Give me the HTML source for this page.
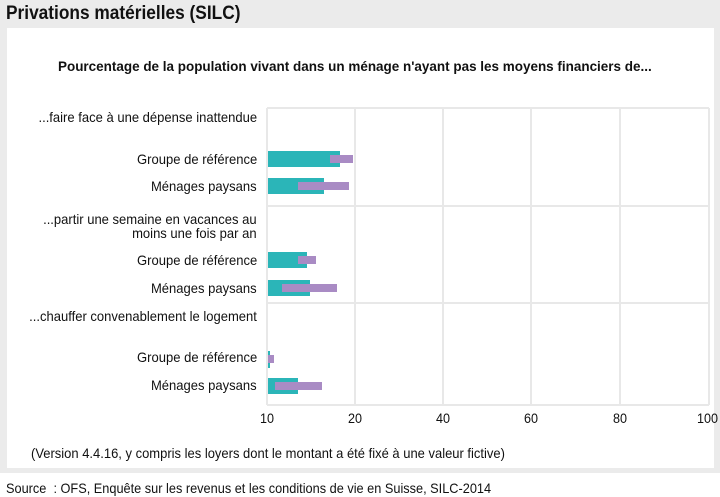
<!DOCTYPE html>
<html><head><meta charset="utf-8"><style>
body{margin:0;width:720px;height:497px;background:#fff;position:relative;overflow:hidden;font-family:"Liberation Sans",sans-serif;color:#111}
.hdr{position:absolute;left:0;top:0;width:720px;height:473px;background:#ebebeb}
.panel{position:absolute;left:7px;top:28px;width:707px;height:440px;background:#fff}
.t{position:absolute;white-space:nowrap;transform-origin:0 0}
.lbl{position:absolute;right:463px;font-size:14px;text-align:right;white-space:nowrap;line-height:14px;transform:scaleX(0.93);transform-origin:100% 0}
.b{position:absolute}
.tl{background:#2bb5b8}.pu{background:#a98bc4}
</style></head><body>
<div class="hdr"></div>
<div class="panel"></div>
<div class="t" style="left:6px;top:3px;font-size:19px;font-weight:bold;transform:scaleX(0.91)">Privations matérielles (SILC)</div>
<div class="t" style="left:58px;top:58px;font-size:14px;font-weight:bold;transform:scaleX(0.962)">Pourcentage de la population vivant dans un ménage n'ayant pas les moyens financiers de...</div>
<svg style="position:absolute;left:0;top:0" width="720" height="497">
<g stroke="#e8e8e8" stroke-width="2" fill="none">
<line x1="267" y1="108" x2="709" y2="108"/>
<line x1="267" y1="206" x2="709" y2="206"/>
<line x1="267" y1="303" x2="709" y2="303"/>
<line x1="267" y1="405" x2="709" y2="405"/>
<line x1="267" y1="108" x2="267" y2="405"/>
<line x1="355" y1="108" x2="355" y2="405"/>
<line x1="443" y1="108" x2="443" y2="405"/>
<line x1="531" y1="108" x2="531" y2="405"/>
<line x1="620" y1="108" x2="620" y2="405"/>
<line x1="709" y1="108" x2="709" y2="405"/>
</g></svg>
<div class="lbl" style="top:110px">...faire face à une dépense inattendue</div>
<div class="lbl" style="top:152px">Groupe de référence</div>
<div class="lbl" style="top:179px">Ménages paysans</div>
<div class="lbl" style="top:212px;line-height:14px">...partir une semaine en vacances au<br>moins une fois par an</div>
<div class="lbl" style="top:253px">Groupe de référence</div>
<div class="lbl" style="top:281px">Ménages paysans</div>
<div class="lbl" style="top:309px">...chauffer convenablement le logement</div>
<div class="lbl" style="top:350px">Groupe de référence</div>
<div class="lbl" style="top:378px">Ménages paysans</div>
<div class="b tl" style="left:268px;top:151px;width:72px;height:16px"></div>
<div class="b pu" style="left:330px;top:155px;width:23px;height:8px"></div>
<div class="b tl" style="left:268px;top:178px;width:56px;height:16px"></div>
<div class="b pu" style="left:298px;top:182px;width:51px;height:8px"></div>
<div class="b tl" style="left:268px;top:252px;width:39px;height:16px"></div>
<div class="b pu" style="left:298px;top:256px;width:18px;height:8px"></div>
<div class="b tl" style="left:268px;top:280px;width:42px;height:16px"></div>
<div class="b pu" style="left:282px;top:284px;width:55px;height:8px"></div>
<div class="b tl" style="left:268px;top:351px;width:2px;height:17px"></div>
<div class="b pu" style="left:268px;top:355px;width:6px;height:8px"></div>
<div class="b tl" style="left:268px;top:378px;width:30px;height:16px"></div>
<div class="b pu" style="left:275px;top:382px;width:47px;height:8px"></div>
<div class="t" style="left:260px;top:410px;font-size:14px;transform:scaleX(0.9)">10</div>
<div class="t" style="left:348px;top:410px;font-size:14px;transform:scaleX(0.9)">20</div>
<div class="t" style="left:436px;top:410px;font-size:14px;transform:scaleX(0.9)">40</div>
<div class="t" style="left:524px;top:410px;font-size:14px;transform:scaleX(0.9)">60</div>
<div class="t" style="left:613px;top:410px;font-size:14px;transform:scaleX(0.9)">80</div>
<div class="t" style="left:697px;top:410px;font-size:14px;transform:scaleX(0.9)">100</div>
<div class="t" style="left:31px;top:445px;font-size:14px;transform:scaleX(0.927)">(Version 4.4.16, y compris les loyers dont le montant a été fixé à une valeur fictive)</div>
<div class="t" style="left:6px;top:480px;font-size:14px;transform:scaleX(0.91)">Source&nbsp; : OFS, Enquête sur les revenus et les conditions de vie en Suisse, SILC-2014</div>
</body></html>
